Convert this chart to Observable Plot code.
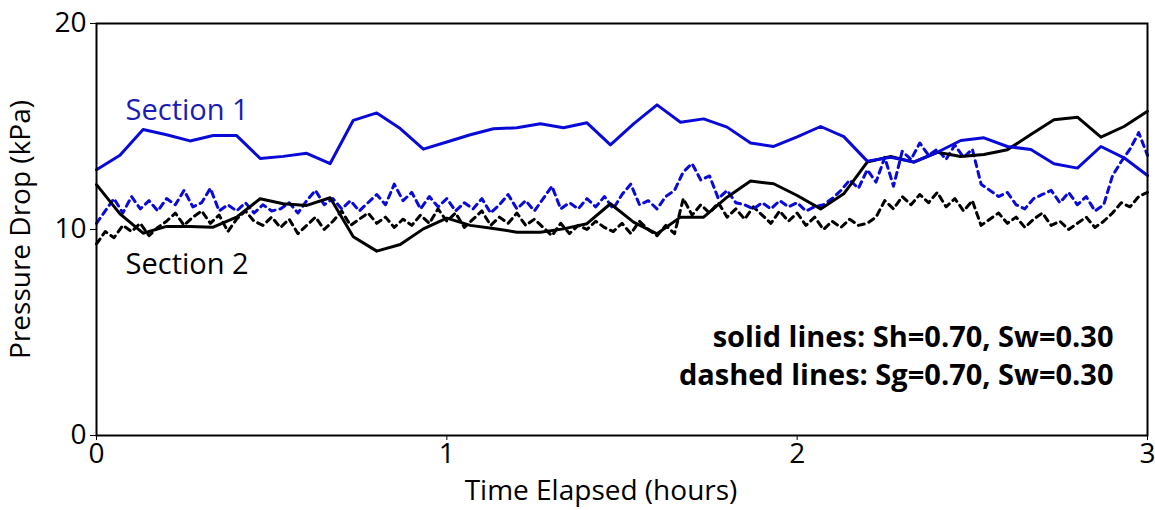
<!DOCTYPE html>
<html>
<head>
<meta charset="utf-8">
<script src="https://cdn.jsdelivr.net/npm/d3@7"></script>
<script src="https://cdn.jsdelivr.net/npm/@observablehq/plot@0.6"></script>
<style>
  html, body { margin: 0; padding: 0; background: #fff; }
  #chart svg { display: block; }
</style>
</head>
<body>
<div id="chart"></div>
<script>
// ---- Data ----
const solidTimes = [0,0.067,0.133,0.2,0.267,0.333,0.4,0.467,0.533,0.6,0.667,0.733,0.8,0.867,0.933,1,1.067,1.133,1.2,1.267,1.333,1.4,1.467,1.533,1.6,1.667,1.733,1.8,1.867,1.933,2,2.067,2.133,2.2,2.267,2.333,2.4,2.467,2.533,2.6,2.667,2.733,2.8,2.867,2.933,3];
const section1Solid = [12.9,13.6,14.85,14.6,14.3,14.56,14.56,13.45,13.55,13.7,13.2,15.3,15.66,14.9,13.9,14.25,14.6,14.89,14.94,15.13,14.94,15.18,14.11,15.13,16.05,15.21,15.37,14.97,14.2,14.03,14.5,15.0,14.51,13.32,13.51,13.27,13.75,14.32,14.45,14.03,13.88,13.19,12.98,14.03,13.48,12.62];
const section2Solid = [12.18,10.76,9.82,10.15,10.15,10.11,10.6,11.49,11.25,11.17,11.54,9.65,8.95,9.27,10.03,10.55,10.2,10.05,9.87,9.87,10.03,10.28,11.25,10.36,9.79,10.6,10.6,11.57,12.35,12.22,11.65,11.0,11.73,13.27,13.54,13.27,13.75,13.54,13.64,13.87,14.61,15.33,15.45,14.48,15.0,15.74];

const dashedTimes = [0,0.025,0.05,0.075,0.1,0.125,0.15,0.175,0.2,0.225,0.25,0.275,0.3,0.325,0.35,0.375,0.4,0.425,0.45,0.475,0.5,0.525,0.55,0.575,0.6,0.625,0.65,0.675,0.7,0.725,0.75,0.775,0.8,0.825,0.85,0.875,0.9,0.925,0.95,0.975,1,1.025,1.05,1.075,1.1,1.125,1.15,1.175,1.2,1.225,1.25,1.275,1.3,1.325,1.35,1.375,1.4,1.425,1.45,1.475,1.5,1.525,1.55,1.575,1.6,1.625,1.65,1.675,1.7,1.725,1.75,1.775,1.8,1.825,1.85,1.875,1.9,1.925,1.95,1.975,2,2.025,2.05,2.075,2.1,2.125,2.15,2.175,2.2,2.225,2.25,2.275,2.3,2.325,2.35,2.375,2.4,2.425,2.45,2.475,2.5,2.525,2.55,2.575,2.6,2.625,2.65,2.675,2.7,2.725,2.75,2.775,2.8,2.825,2.85,2.875,2.9,2.925,2.95,2.975,3];
const section1Dashed = [10.3,10.9,11.5,10.8,11.6,11.0,11.4,10.9,11.5,11.2,11.9,11.1,11.3,12.0,10.9,11.2,10.9,11.3,10.8,11.2,10.9,11.0,11.3,10.8,11.4,11.9,11.2,11.5,11.0,11.4,10.9,11.3,11.7,11.2,12.2,11.4,11.8,11.0,11.6,11.1,11.5,10.9,11.3,11.0,11.5,10.8,11.2,11.7,11.0,11.4,10.9,11.5,12.1,11.0,11.3,11.0,11.5,11.1,11.6,11.0,11.7,12.2,11.2,11.4,11.0,11.6,11.9,12.8,13.2,12.4,12.6,11.5,11.9,11.3,11.2,11.0,11.3,11.0,11.4,11.1,11.3,10.9,11.1,11.2,11.5,11.9,12.4,12.0,12.9,12.3,13.5,12.1,13.8,13.4,14.2,13.6,13.9,13.4,14.1,13.5,13.9,12.2,11.9,11.6,11.8,11.2,11.0,11.5,11.7,11.9,11.3,11.8,11.2,11.6,10.9,11.2,12.6,13.3,13.9,14.7,13.6];
const section2Dashed = [9.3,9.9,9.6,10.2,9.9,10.3,9.7,10.1,10.4,10.8,10.2,10.6,10.9,10.3,10.7,9.9,10.5,10.9,10.4,10.2,10.6,10.1,10.5,9.8,10.2,10.6,10.0,10.4,10.9,10.2,10.5,10.8,10.3,10.6,10.1,10.5,10.2,10.7,10.3,11.0,10.4,10.8,10.1,10.5,10.9,10.2,10.6,10.3,10.8,10.2,10.5,10.1,9.7,10.3,9.8,10.2,10.0,10.4,10.1,9.9,10.3,9.8,10.4,10.0,9.7,10.2,9.8,11.5,10.7,11.2,10.8,11.3,10.6,11.0,10.5,11.1,10.7,10.3,10.9,10.4,10.8,10.2,10.6,10.0,10.4,10.1,10.5,10.2,10.3,10.6,11.4,11.0,11.6,11.2,11.7,11.3,11.8,11.1,11.5,10.9,11.4,10.2,10.5,10.8,10.3,10.6,10.1,10.5,10.8,10.2,10.4,10.0,10.3,10.6,10.1,10.4,10.8,11.3,11.1,11.6,11.8];

const xTicks = [0, 1, 2, 3];
const yTicks = [0, 10, 20];
const xLabel = "Time Elapsed (hours)";
const yLabel = "Pressure Drop (kPa)";
const seriesLabels = ["Section 1", "Section 2"];
const noteLines = ["solid lines: Sh=0.70, Sw=0.30", "dashed lines: Sg=0.70, Sw=0.30"];

// ---- Build tables ----
const s1 = solidTimes.map((t, i) => ({t, v: section1Solid[i]}));
const s2 = solidTimes.map((t, i) => ({t, v: section2Solid[i]}));
const d1 = dashedTimes.map((t, i) => ({t, v: section1Dashed[i]}));
const d2 = dashedTimes.map((t, i) => ({t, v: section2Dashed[i]}));

const BLUE = "#0a0ad8";
const FONT = "'Open Sans', 'Noto Sans', sans-serif";

const chart = Plot.plot({
  width: 1155,
  height: 510,
  marginLeft: 96,
  marginRight: 8,
  marginTop: 23,
  marginBottom: 75,
  style: {fontFamily: FONT, fontSize: "27px", color: "#000", background: "#fff"},
  x: {domain: [0, 3]},
  y: {domain: [0, 20]},
  marks: [
    Plot.axisX({ticks: xTicks, tickFormat: d => String(d), tickSize: 5, tickPadding: 3, fontSize: 28, label: null}),
    Plot.axisY({ticks: yTicks, tickFormat: d => String(d), tickSize: 6, tickPadding: 4, fontSize: 28,
      label: yLabel, labelAnchor: "center", labelArrow: "none", labelOffset: 86}),
    Plot.text([xLabel], {frameAnchor: "bottom", text: d => d, dx: -21, dy: 64, lineAnchor: "bottom", fontSize: 28, fill: "#000"}),
    Plot.line(d2, {x: "t", y: "v", stroke: "#000", strokeWidth: 3, strokeDasharray: "6,5"}),
    Plot.line(d1, {x: "t", y: "v", stroke: BLUE, strokeWidth: 3, strokeDasharray: "6,5"}),
    Plot.line(s2, {x: "t", y: "v", stroke: "#000", strokeWidth: 3}),
    Plot.line(s1, {x: "t", y: "v", stroke: BLUE, strokeWidth: 3}),
    Plot.text([seriesLabels[0]], {x: 0.083, y: 15.75, text: d => d, textAnchor: "start", fill: "#1c1cb4", fontSize: 29}),
    Plot.text([seriesLabels[1]], {x: 0.083, y: 8.3, text: d => d, textAnchor: "start", fill: "#000", fontSize: 29}),
    Plot.text([noteLines[0]], {x: 2.903, y: 4.75, text: d => d, textAnchor: "end", fill: "#000", fontSize: 29, fontWeight: "bold"}),
    Plot.text([noteLines[1]], {x: 2.903, y: 2.9, text: d => d, textAnchor: "end", fill: "#000", fontSize: 29, fontWeight: "bold"}),
    Plot.frame({stroke: "#000", strokeWidth: 2})
  ]
});
document.getElementById("chart").appendChild(chart);
</script>
</body>
</html>
